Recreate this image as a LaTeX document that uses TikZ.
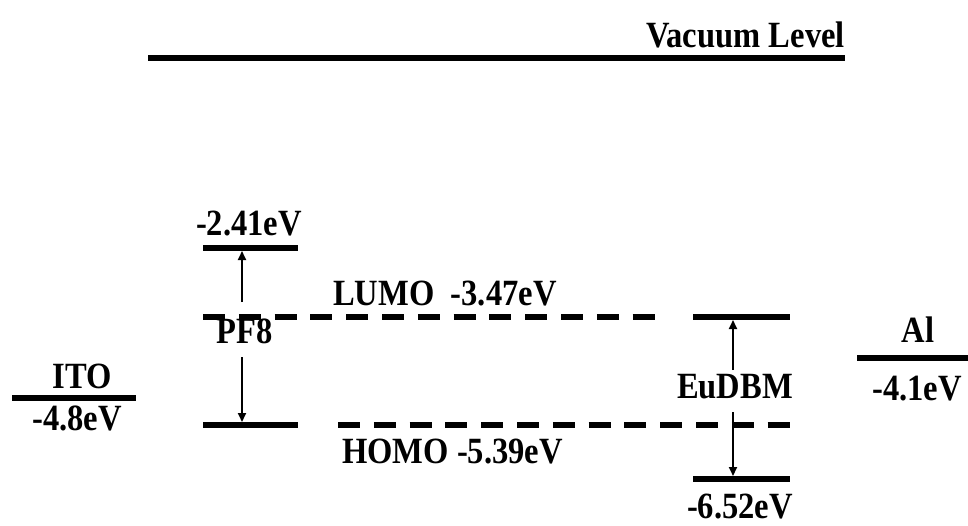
\documentclass[tikz,border=0pt]{standalone}
\usepackage{fontspec}
\setmainfont{Liberation Serif}[FakeStretch=0.88]
\usetikzlibrary{arrows.meta, positioning}

\begin{document}
\begin{tikzpicture}[x=1pt, y=-1pt, >={Triangle[length=9pt,width=8pt]},
  level/.style={line width=6pt},
  band/.style={line width=6pt, dash pattern=on 22pt off 13.8pt},
  lbl/.style={font=\fontsize{37}{40}\selectfont\bfseries, inner sep=0pt},
  gapline/.style={->, line width=1.8pt}]
  \useasboundingbox (0,0) rectangle (968,525);
  % vacuum level
  \coordinate (vacL) at (148,58);
  \coordinate (vacR) at (845,58);
  \draw[level] (vacL) -- (vacR);
  \node[lbl, anchor=base east] (vac) at (845,47) {Vacuum Level};
  % ITO
  \coordinate (itoL) at (12,398);
  \coordinate (itoR) at (136,398);
  \draw[level] (itoL) -- (itoR);
  \node[lbl, anchor=base] (ito) at (82,388) {ITO};
  \node[lbl, anchor=base] (itoE) at (77,430) {-4.8eV};
  % PF8
  \coordinate (pfL) at (203,248);
  \coordinate (pfR) at (298,248);
  \coordinate (pfHL) at (203,425);
  \coordinate (pfHR) at (298,425);
  \draw[level] (pfL) -- (pfR);
  \draw[level] (pfHL) -- (pfHR);
  \node[lbl, anchor=base] (pfE) at (249,235) {-2.41eV};
  \node[lbl, anchor=base] (pf8) at (245,343) {PF8};
  \coordinate (pfUp) at (242,302);
  \coordinate (pfTop) at (242,251);
  \coordinate (pfDn) at (242,357);
  \coordinate (pfBot) at (242,422);
  \draw[gapline] (pfUp) -- (pfTop);
  \draw[gapline] (pfDn) -- (pfBot);
  % LUMO / HOMO
  \coordinate (lumoL) at (203,317);
  \coordinate (lumoR) at (655,317);
  \coordinate (homoL) at (338,425);
  \coordinate (homoR) at (790,425);
  \draw[band] (lumoL) -- (lumoR);
  \draw[band] (homoL) -- (homoR);
  \node[lbl, anchor=base west] (lumo) at (333,305) {LUMO\ \ -3.47eV};
  \node[lbl, anchor=base west] (homo) at (342,463) {HOMO -5.39eV};
  % EuDBM
  \coordinate (euL) at (693,317);
  \coordinate (euR) at (790,317);
  \coordinate (euHL) at (693,479);
  \coordinate (euHR) at (790,479);
  \draw[level] (euL) -- (euR);
  \draw[level] (euHL) -- (euHR);
  \node[lbl, anchor=base] (eu) at (735,398) {EuDBM};
  \node[lbl, anchor=base] (euE) at (740,518) {-6.52eV};
  \coordinate (euUp) at (733,370);
  \coordinate (euTop) at (733,320);
  \coordinate (euDn) at (733,412);
  \coordinate (euBot) at (733,476);
  \draw[gapline] (euUp) -- (euTop);
  \draw[gapline] (euDn) -- (euBot);
  % Al
  \coordinate (alL) at (857,358);
  \coordinate (alR) at (968,358);
  \draw[level] (alL) -- (alR);
  \node[lbl, anchor=base] (al) at (918,342) {Al};
  \node[lbl, anchor=base west] (alE) at (872,400) {-4.1eV};
\end{tikzpicture}
\end{document}
